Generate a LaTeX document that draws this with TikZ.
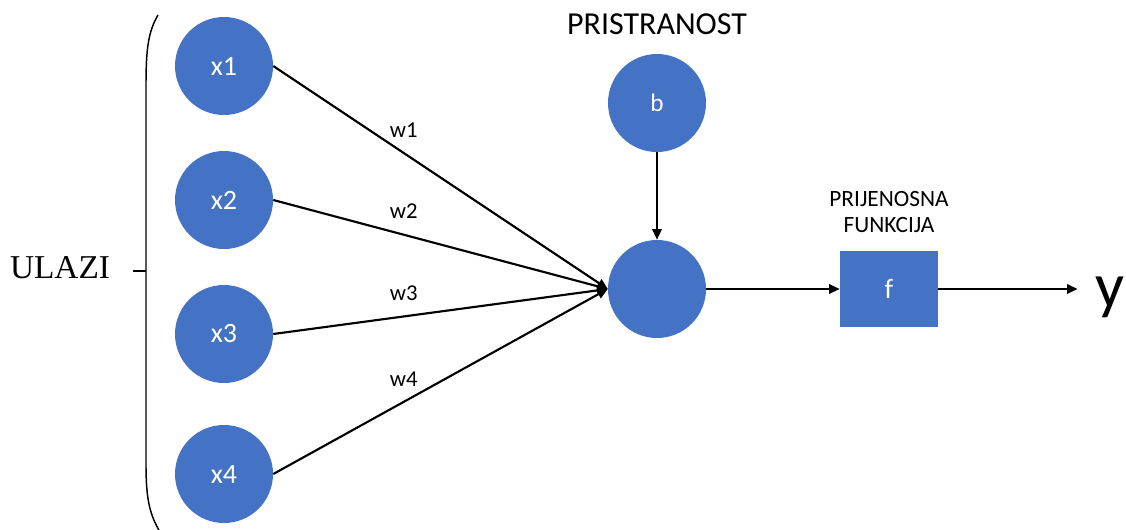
\documentclass[tikz,border=0pt]{standalone}
\usepackage{fontspec}
\setmainfont{Carlito}
\newfontfamily\ulazifont{Liberation Serif}
\usetikzlibrary{arrows.meta}
\definecolor{nodeblue}{HTML}{4472C4}

\begin{document}
\begin{tikzpicture}[x=0.75pt,y=-0.75pt]

\tikzset{Neuron/.style={circle,fill=nodeblue,minimum size=73.5pt,inner sep=0pt,text=white,font=\fontsize{21}{24}\selectfont}}
\tikzset{EdgeStyle/.style={-{Triangle[length=8pt,width=7pt]},line width=1.6pt}}
\tikzset{WeightLabel/.style={pos=0.39,above=11pt,inner sep=0pt,font=\fontsize{17}{20}\selectfont}}
  \useasboundingbox (0,0) rectangle (1126,529);

  % inputs
  \node[Neuron] (x1) at (224,66)  {x1};
  \node[Neuron] (x2) at (224,200) {x2};
  \node[Neuron] (x3) at (224,334) {x3};
  \node[Neuron] (x4) at (224,474) {x4};

  \node[Neuron,font=\fontsize{19}{22}\selectfont] (b) at (657,103) {b};
  \node[Neuron] (sum) at (657,289) {};
  \node[rectangle,fill=nodeblue,minimum width=73.5pt,minimum height=57pt,inner sep=0pt,
        text=white,font=\fontsize{21}{24}\selectfont] (f) at (889,289) {f};

  \node[anchor=west,inner sep=0pt,font=\fontsize{48}{54}\selectfont] (yout) at (1095,297) {y};

  \node[font=\fontsize{24}{28}\selectfont] (pristranost) at (657,24) {PRISTRANOST};
  \node[align=center,font=\fontsize{17.5}{19.5}\selectfont] (prijenosna) at (889,212) {PRIJENOSNA\\FUNKCIJA};
  \node[font=\ulazifont\fontsize{25}{28}\selectfont] (ulazi) at (60,268) {ULAZI};

  % bracket round the inputs
  \draw[line width=1.1pt] (158,15) .. controls (148,32) and (146,50) .. (146,85)
    -- (146,465) .. controls (146,500) and (150,515) .. (160,532);
  \coordinate (bracemid) at (146,271);
  \draw[line width=1.1pt] (bracemid) -- ++(-13,0);

  \draw[EdgeStyle] (x1.east) -- (sum.west) node[WeightLabel] {w1};
  \draw[EdgeStyle] (x2.east) -- (sum.west) node[WeightLabel] {w2};
  \draw[EdgeStyle] (x3.east) -- (sum.west) node[WeightLabel] {w3};
  \draw[EdgeStyle] (x4.east) -- (sum.west) node[WeightLabel] {w4};

  \draw[EdgeStyle] (b) -- (sum);
  \draw[EdgeStyle] (sum) -- (f);
  \draw[EdgeStyle,shorten >=13pt] (f) -- (f -| yout.west);

\end{tikzpicture}
\end{document}
